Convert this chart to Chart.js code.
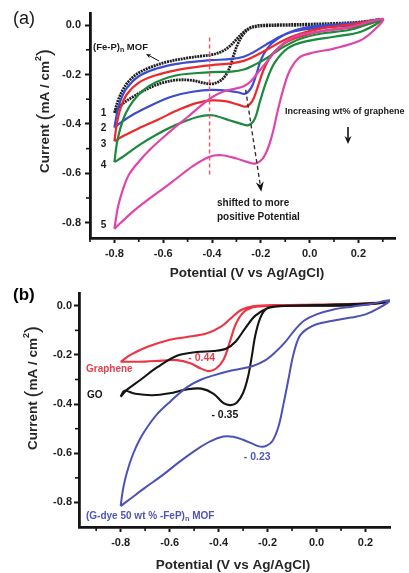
<!DOCTYPE html>
<html>
<head>
<meta charset="utf-8">
<script src="https://cdn.jsdelivr.net/npm/chart.js@4.4.1/dist/chart.umd.min.js"></script>
<style>
  html, body { margin: 0; padding: 0; background: #fff; }
  #wrap { position: relative; width: 409px; height: 573px; overflow: hidden; }
  canvas { position: absolute; left: 0; }
  #chartA { top: 0; }
  #chartB { top: 280px; }
</style>
</head>
<body>
<div id="wrap">
  <canvas id="chartA" width="409" height="280"></canvas>
  <canvas id="chartB" width="409" height="293"></canvas>
</div>
<script>
// ---------- Panel (a): (Fe-P)n MOF with increasing graphene content, curves 1-5 ----------
// Each loop: [potential (V), current (mA/cm2)], starting at the -0.8 V vertex,
// along the upper branch to +0.3 V and back along the lower (reduction) branch.
const curve1 = [
  [-0.80,-0.355],[-0.785,-0.305],[-0.765,-0.262],[-0.74,-0.226],[-0.70,-0.193],[-0.65,-0.170],[-0.58,-0.148],
  [-0.50,-0.133],[-0.44,-0.125],[-0.40,-0.120],[-0.36,-0.107],[-0.33,-0.088],[-0.30,-0.058],[-0.27,-0.028],
  [-0.24,-0.009],[-0.20,-0.001],[-0.10,0.002],[0.00,0.004],[0.10,0.007],[0.20,0.012],[0.30,0.024],
  [0.20,0.006],[0.10,0.002],[0.00,0.000],[-0.10,-0.001],[-0.18,-0.003],[-0.22,-0.006],[-0.25,-0.016],
  [-0.275,-0.042],[-0.295,-0.078],[-0.31,-0.118],[-0.325,-0.165],[-0.345,-0.205],[-0.37,-0.228],[-0.40,-0.238],
  [-0.43,-0.235],[-0.48,-0.224],[-0.54,-0.222],[-0.60,-0.233],[-0.66,-0.256],[-0.72,-0.288],[-0.77,-0.322],[-0.80,-0.355]
];
const curve2 = [
  [-0.80,-0.415],[-0.79,-0.360],[-0.775,-0.305],[-0.75,-0.256],[-0.70,-0.207],[-0.63,-0.177],[-0.55,-0.158],
  [-0.46,-0.147],[-0.40,-0.142],[-0.32,-0.137],[-0.27,-0.128],[-0.23,-0.110],[-0.18,-0.080],[-0.12,-0.046],
  [-0.06,-0.021],[0.00,-0.007],[0.10,0.002],[0.20,0.010],[0.30,0.024],
  [0.20,0.000],[0.10,-0.006],[0.00,-0.015],[-0.08,-0.030],[-0.13,-0.055],[-0.17,-0.090],[-0.20,-0.142],
  [-0.22,-0.205],[-0.24,-0.255],[-0.265,-0.278],[-0.29,-0.273],[-0.33,-0.266],[-0.40,-0.262],[-0.48,-0.270],
  [-0.56,-0.288],[-0.64,-0.320],[-0.72,-0.360],[-0.77,-0.392],[-0.80,-0.415]
];
const curve3 = [
  [-0.80,-0.470],[-0.79,-0.400],[-0.775,-0.337],[-0.75,-0.282],[-0.70,-0.233],[-0.63,-0.203],[-0.55,-0.183],
  [-0.46,-0.169],[-0.40,-0.162],[-0.32,-0.155],[-0.27,-0.145],[-0.22,-0.123],[-0.17,-0.097],[-0.11,-0.063],
  [-0.04,-0.035],[0.05,-0.013],[0.15,0.000],[0.30,0.024],
  [0.20,-0.006],[0.07,-0.021],[-0.04,-0.047],[-0.10,-0.072],[-0.155,-0.120],[-0.19,-0.185],[-0.215,-0.258],
  [-0.235,-0.308],[-0.26,-0.330],[-0.29,-0.323],[-0.34,-0.309],[-0.40,-0.305],[-0.46,-0.315],[-0.53,-0.340],
  [-0.62,-0.382],[-0.70,-0.418],[-0.76,-0.447],[-0.80,-0.470]
];
const curve4 = [
  [-0.80,-0.555],[-0.79,-0.480],[-0.775,-0.415],[-0.755,-0.360],[-0.725,-0.310],[-0.685,-0.266],[-0.63,-0.231],
  [-0.55,-0.204],[-0.46,-0.194],[-0.40,-0.190],[-0.32,-0.188],[-0.27,-0.180],[-0.22,-0.158],[-0.17,-0.130],
  [-0.11,-0.090],[-0.04,-0.056],[0.05,-0.034],[0.17,-0.018],[0.30,0.024],
  [0.21,-0.027],[0.10,-0.047],[-0.02,-0.067],[-0.09,-0.094],[-0.145,-0.155],[-0.18,-0.236],[-0.205,-0.315],
  [-0.225,-0.380],[-0.25,-0.405],[-0.28,-0.400],[-0.33,-0.385],[-0.40,-0.365],[-0.46,-0.372],[-0.55,-0.405],
  [-0.63,-0.445],[-0.70,-0.487],[-0.765,-0.533],[-0.80,-0.555]
];
const curve5 = [
  [-0.80,-0.825],[-0.785,-0.735],[-0.765,-0.665],[-0.74,-0.605],[-0.70,-0.553],[-0.65,-0.500],[-0.60,-0.455],
  [-0.55,-0.412],[-0.50,-0.372],[-0.45,-0.330],[-0.40,-0.292],[-0.35,-0.268],[-0.30,-0.256],[-0.27,-0.248],
  [-0.24,-0.226],[-0.21,-0.190],[-0.17,-0.142],[-0.13,-0.095],[-0.09,-0.062],[-0.04,-0.040],[0.03,-0.027],
  [0.17,-0.007],[0.30,0.024],
  [0.265,-0.020],[0.21,-0.061],[0.10,-0.095],[0.02,-0.110],[-0.04,-0.130],[-0.08,-0.182],[-0.105,-0.250],
  [-0.13,-0.344],[-0.155,-0.450],[-0.185,-0.530],[-0.22,-0.560],[-0.26,-0.553],[-0.30,-0.540],[-0.36,-0.527],
  [-0.41,-0.533],[-0.48,-0.572],[-0.57,-0.640],[-0.66,-0.705],[-0.73,-0.760],[-0.80,-0.825]
];
const curveLabelsA = ['1', '2', '3', '4', '5'];

// guide line at the reduction potential of the bare MOF, and the peak-shift arrow
const guideLine = { x: -0.41, from: -0.05, to: -0.607 };
const shiftArrow = { x0: -0.262, y0: -0.262, x1: -0.198, y1: -0.675 };

// ---------- Panel (b): Graphene, GO and (G-dye 50 wt% -FeP)n MOF ----------
const graphene = [
  [-0.80,-0.228],[-0.76,-0.200],[-0.69,-0.167],[-0.61,-0.141],[-0.53,-0.127],[-0.45,-0.113],[-0.39,-0.085],
  [-0.35,-0.051],[-0.31,-0.018],[-0.26,-0.002],[-0.15,0.003],[0.00,0.005],[0.15,0.008],[0.29,0.014],
  [0.15,0.003],[0.00,0.000],[-0.15,-0.001],[-0.22,-0.002],[-0.26,-0.006],[-0.30,-0.028],[-0.33,-0.075],
  [-0.355,-0.150],[-0.38,-0.220],[-0.41,-0.255],[-0.44,-0.266],[-0.475,-0.254],[-0.515,-0.234],[-0.57,-0.221],
  [-0.63,-0.223],[-0.70,-0.227],[-0.80,-0.228]
];
const grapheneOxide = [
  [-0.80,-0.370],[-0.775,-0.342],[-0.72,-0.302],[-0.65,-0.250],[-0.57,-0.203],[-0.49,-0.188],[-0.42,-0.184],
  [-0.37,-0.175],[-0.33,-0.145],[-0.29,-0.090],[-0.25,-0.040],[-0.20,-0.010],[-0.14,-0.001],[0.00,0.003],
  [0.15,0.007],[0.29,0.014],
  [0.15,0.002],[0.00,0.000],[-0.15,-0.002],[-0.205,-0.012],[-0.23,-0.050],[-0.25,-0.120],[-0.265,-0.210],
  [-0.28,-0.290],[-0.30,-0.355],[-0.325,-0.393],[-0.35,-0.404],[-0.38,-0.396],[-0.42,-0.358],[-0.47,-0.337],
  [-0.53,-0.340],[-0.60,-0.356],[-0.67,-0.364],[-0.74,-0.358],[-0.785,-0.346],[-0.80,-0.370]
];
const gDyeMof = [
  [-0.80,-0.815],[-0.79,-0.745],[-0.775,-0.680],[-0.75,-0.605],[-0.72,-0.540],[-0.69,-0.492],[-0.65,-0.440],
  [-0.60,-0.392],[-0.53,-0.332],[-0.47,-0.300],[-0.42,-0.283],[-0.36,-0.266],[-0.31,-0.256],[-0.26,-0.245],
  [-0.21,-0.222],[-0.17,-0.190],[-0.13,-0.150],[-0.09,-0.100],[-0.05,-0.060],[0.00,-0.035],[0.07,-0.015],
  [0.15,-0.003],[0.22,0.007],[0.30,0.022],
  [0.25,-0.012],[0.20,-0.035],[0.14,-0.048],[0.06,-0.062],[0.00,-0.075],[-0.04,-0.095],[-0.07,-0.125],
  [-0.095,-0.200],[-0.115,-0.300],[-0.135,-0.400],[-0.155,-0.490],[-0.18,-0.550],[-0.205,-0.570],[-0.23,-0.573],
  [-0.26,-0.562],[-0.30,-0.545],[-0.34,-0.533],[-0.38,-0.532],[-0.43,-0.550],[-0.49,-0.585],[-0.56,-0.635],
  [-0.63,-0.690],[-0.70,-0.740],[-0.76,-0.785],[-0.80,-0.815]
];
// reduction peak potentials written next to each curve in panel (b)
const peakPotentials = [-0.44, -0.35, -0.23];
const peakCurrents = [-0.266, -0.404, -0.573];

// axis ticks
const majorTicksStep = 0.2;
const minorTicksAx = [-0.9, -0.7, -0.5, -0.3, -0.1, 0.1, 0.3];
const minorTicksAy = [-0.1, -0.3, -0.5, -0.7];
const minorTicksBx = [-0.9, -0.7, -0.5, -0.3, -0.1, 0.1];
const minorTicksBy = [-0.1, -0.3, -0.5, -0.7];

// ---------- drawing helpers ----------
const FONT = '"Liberation Sans", Arial, Helvetica, sans-serif';
const AXIS = '#141414';
const f = (w, s) => `${w} ${s}px ${FONT}`;

function toXY(arr) { return arr.map(p => ({ x: p[0], y: p[1] })); }

function fmt(v) { return Math.abs(v) < 1e-9 ? '0.0' : v.toFixed(1); }

function textRuns(ctx, x, y, parts, align) {
  let w = 0;
  parts.forEach(p => { ctx.font = p[1]; w += ctx.measureText(p[0]).width; });
  let cx = align === 'center' ? x - w / 2 : x;
  ctx.textAlign = 'left';
  ctx.textBaseline = 'middle';
  parts.forEach(p => {
    ctx.font = p[1];
    ctx.fillText(p[0], cx, y + (p[2] || 0));
    cx += ctx.measureText(p[0]).width;
  });
}

function arrowHead(ctx, x0, y0, x1, y1, len, half) {
  const a = Math.atan2(y1 - y0, x1 - x0);
  ctx.beginPath();
  ctx.moveTo(x1, y1);
  ctx.lineTo(x1 - len * Math.cos(a) + half * Math.sin(a), y1 - len * Math.sin(a) - half * Math.cos(a));
  ctx.lineTo(x1 - len * 0.7 * Math.cos(a), y1 - len * 0.7 * Math.sin(a));
  ctx.lineTo(x1 - len * Math.cos(a) - half * Math.sin(a), y1 - len * Math.sin(a) + half * Math.cos(a));
  ctx.closePath();
  ctx.fill();
}

function axisTitles(ctx, xt, yt) {
  ctx.save();
  ctx.fillStyle = '#262626';
  textRuns(ctx, xt[0], xt[1], [['Potential (V vs Ag/AgCl)', f('bold', 13.5)]], 'center');
  ctx.translate(yt[0], yt[1]);
  ctx.rotate(-Math.PI / 2);
  textRuns(ctx, 0, 0, [
    ['Current ', f('bold', 13.5)],
    ['(', f('normal', 21), 0],
    ['mA / cm', f('bold', 13.5)],
    ['2', f('bold', 9), -6],
    [')', f('normal', 21), 0]
  ], 'center');
  ctx.restore();
}

const minorTickPlugin = {
  id: 'minorTicks',
  afterDraw(chart, args, opts) {
    const { ctx, chartArea: a, scales: { x, y } } = chart;
    ctx.save();
    ctx.strokeStyle = AXIS;
    ctx.lineWidth = 1.6;
    opts.x.forEach(v => {
      const px = x.getPixelForValue(v);
      ctx.beginPath(); ctx.moveTo(px, a.bottom + 1); ctx.lineTo(px, a.bottom + 4); ctx.stroke();
    });
    opts.y.forEach(v => {
      const py = y.getPixelForValue(v);
      ctx.beginPath(); ctx.moveTo(a.left - 1, py); ctx.lineTo(a.left - 4, py); ctx.stroke();
    });
    ctx.restore();
  }
};

function scalesFor(xr, yr, yWidth, xHeight, yPad) {
  const common = {
    type: 'linear',
    grid: { drawOnChartArea: false, drawTicks: true, tickLength: 5, tickWidth: 2, tickColor: AXIS },
    border: { display: true, color: AXIS, width: 2.8 },
    title: { display: false }
  };
  return {
    x: Object.assign({}, common, {
      position: 'bottom', min: xr[0], max: xr[1],
      ticks: { stepSize: majorTicksStep, includeBounds: false, autoSkip: false, maxRotation: 0,
               color: '#1e1e1e', font: { family: FONT, size: 11, weight: 'bold' }, padding: 4,
               callback: v => fmt(v) },
      afterFit: s => { s.height = xHeight; }
    }),
    y: Object.assign({}, common, {
      position: 'left', min: yr[0], max: yr[1],
      ticks: { stepSize: majorTicksStep, includeBounds: false, autoSkip: false,
               color: '#1e1e1e', font: { family: FONT, size: 11, weight: 'bold' }, padding: yPad,
               callback: v => fmt(v) },
      afterFit: s => { s.width = yWidth; }
    })
  };
}

function line(data, color, width, dash) {
  return {
    data: toXY(data), showLine: true, borderColor: color, backgroundColor: color,
    borderWidth: width, borderDash: dash || [], pointRadius: 0, tension: 0.35, fill: false,
    borderCapStyle: 'butt', borderJoinStyle: 'round'
  };
}

// ---------- panel (a) ----------
const annotA = {
  id: 'annotA',
  afterDatasetsDraw(chart) {
    const { ctx, scales: { x, y } } = chart;
    ctx.save();
    // vertical guide
    ctx.strokeStyle = '#e45a6e'; ctx.lineWidth = 1.5; ctx.setLineDash([4, 3]);
    const gx = x.getPixelForValue(guideLine.x);
    ctx.beginPath(); ctx.moveTo(gx, y.getPixelForValue(guideLine.from)); ctx.lineTo(gx, y.getPixelForValue(guideLine.to)); ctx.stroke();
    // peak shift arrow
    const sx0 = x.getPixelForValue(shiftArrow.x0), sy0 = y.getPixelForValue(shiftArrow.y0);
    const sx1 = x.getPixelForValue(shiftArrow.x1), sy1 = y.getPixelForValue(shiftArrow.y1);
    ctx.strokeStyle = '#333'; ctx.lineWidth = 1.4; ctx.setLineDash([4, 3]);
    ctx.beginPath(); ctx.moveTo(sx0, sy0); ctx.lineTo(sx1 - (sx1 - sx0) * 0.04, sy1 - (sy1 - sy0) * 0.04); ctx.stroke();
    ctx.setLineDash([]);
    ctx.fillStyle = '#111';
    arrowHead(ctx, sx0, sy0, sx1, sy1, 10, 4);
    // graphene loading arrow
    ctx.strokeStyle = '#111'; ctx.lineWidth = 1.6;
    ctx.beginPath(); ctx.moveTo(348, 127); ctx.lineTo(348, 138); ctx.stroke();
    arrowHead(ctx, 348, 127, 348, 144, 8, 3.5);
    // label arrow for the MOF curve
    ctx.lineWidth = 1;
    ctx.beginPath(); ctx.moveTo(159, 61); ctx.lineTo(149, 55.5); ctx.stroke();
    arrowHead(ctx, 159, 61, 146, 54, 5, 2);
    // texts
    ctx.fillStyle = '#1a1a1a';
    textRuns(ctx, 13, 19, [['(a)', f('normal', 18)]], 'left');
    textRuns(ctx, 93, 47, [['(Fe-P)', f('bold', 9.5)], ['n', f('bold', 7), 3], [' MOF', f('bold', 9.5)]], 'left');
    textRuns(ctx, 285, 112, [['Increasing wt% of graphene', f('bold', 9)]], 'left');
    textRuns(ctx, 217, 203, [['shifted to more', f('bold', 10)]], 'left');
    textRuns(ctx, 217, 217, [['positive Potential', f('bold', 10)]], 'left');
    const labelY = [113, 128, 144, 165, 225];
    curveLabelsA.forEach((t, i) => textRuns(ctx, 103.5, labelY[i], [[t, f('bold', 10)]], 'center'));
    axisTitles(ctx, [247, 273], [45, 111]);
    ctx.restore();
  }
};

new Chart(document.getElementById('chartA'), {
  type: 'scatter',
  data: {
    datasets: [
      line(curve5, '#e044aa', 2.2),
      line(curve4, '#1b8a3c', 2.2),
      line(curve3, '#ec2a2c', 2.2),
      line(curve2, '#3c4cd0', 2.2),
      line(curve1, '#202020', 2.8, [2, 0.8])
    ]
  },
  options: {
    responsive: false, animation: false, devicePixelRatio: 1,
    layout: { padding: { left: 0, top: 13, right: 14, bottom: 0 } },
    plugins: { legend: { display: false }, tooltip: { enabled: false },
               minorTicks: { x: minorTicksAx, y: minorTicksAy } },
    scales: scalesFor([-0.9, 0.35], [-0.862, 0.049], 90, 42, 4)
  },
  plugins: [minorTickPlugin, annotA]
});

// ---------- panel (b) ----------
const annotB = {
  id: 'annotB',
  afterDatasetsDraw(chart) {
    const { ctx, scales: { x, y } } = chart;
    ctx.save();
    textRuns(ctx, 13, 15, [['(b)', f('bold', 17)]], 'left');
    ctx.fillStyle = '#e8404f';
    textRuns(ctx, 86, 89, [['Graphene', f('bold', 10)]], 'left');
    ctx.fillStyle = '#151515';
    textRuns(ctx, 87, 115, [['GO', f('bold', 10)]], 'left');
    ctx.fillStyle = '#4f55b8';
    textRuns(ctx, 86, 236, [['(G-dye 50 wt % -FeP)', f('bold', 10)], ['n', f('bold', 7.5), 3], [' MOF', f('bold', 10)]], 'left');
    const colors = ['#e8404f', '#151515', '#5258bd'];
    const dx = [-7, -6, -3], dy = [-13, 10, 10];
    peakPotentials.forEach((p, i) => {
      ctx.fillStyle = colors[i];
      const px = x.getPixelForValue(p) + dx[i];
      const py = y.getPixelForValue(peakCurrents[i]) + dy[i];
      textRuns(ctx, px, py, [['- ' + Math.abs(p).toFixed(2), f('bold', 10.5)]], 'center');
    });
    axisTitles(ctx, [233, 285], [33, 108]);
    ctx.restore();
  }
};

new Chart(document.getElementById('chartB'), {
  type: 'scatter',
  data: {
    datasets: [
      line(gDyeMof, '#4c51b6', 2),
      line(grapheneOxide, '#141414', 2.1),
      line(graphene, '#ee3441', 2.1)
    ]
  },
  options: {
    responsive: false, animation: false, devicePixelRatio: 1,
    layout: { padding: { left: 0, top: 13, right: 19, bottom: 0 } },
    plugins: { legend: { display: false }, tooltip: { enabled: false },
               minorTicks: { x: minorTicksBx, y: minorTicksBy } },
    scales: scalesFor([-0.97, 0.30], [-0.90, 0.052], 79, 46, 2)
  },
  plugins: [minorTickPlugin, annotB]
});
</script>
</body>
</html>
